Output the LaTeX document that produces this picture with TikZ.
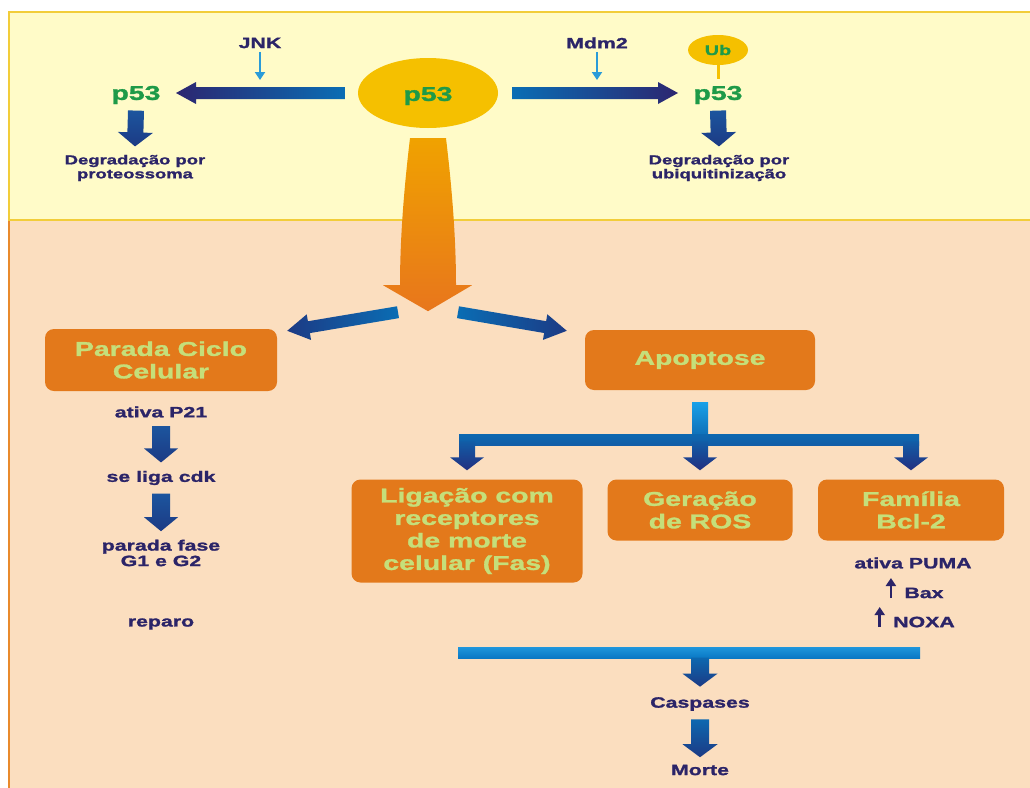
\documentclass[tikz,border=0pt]{standalone}
\usepackage{fontspec}
\newfontfamily\wfont{Liberation Sans}[FakeStretch=1.42, FakeBold=1.4]
\usetikzlibrary{shapes.geometric,calc,arrows.meta}

\definecolor{panelY}{HTML}{FFFBC8}
\definecolor{panelYline}{HTML}{F2CD3A}
\definecolor{panelO}{HTML}{FBDEBF}
\definecolor{panelOline}{HTML}{E98A2C}
\definecolor{goldE}{HTML}{F5C000}
\definecolor{greenT}{HTML}{1E9A48}
\definecolor{navyT}{HTML}{2B2468}
\definecolor{boxOr}{HTML}{E3791B}
\definecolor{boxGr}{HTML}{C5DF7A}
\definecolor{navyA}{HTML}{2C2670}
\definecolor{blueA}{HTML}{0A6DB4}
\definecolor{blueD}{HTML}{1C559E}
\definecolor{navyD}{HTML}{1C3A84}
\definecolor{skyB}{HTML}{18A0E8}
\definecolor{blueB}{HTML}{0D68B0}
\definecolor{navyC}{HTML}{232F80}
\definecolor{skyE}{HTML}{1E96DC}
\definecolor{blueE}{HTML}{0A78C4}
\definecolor{tinyBlue}{HTML}{2A9BD8}
\definecolor{ogold}{HTML}{F0A200}
\definecolor{oorange}{HTML}{E8761C}

\tikzset{
  lbl/.style={text=navyT, align=center, font=\wfont\bfseries\fontsize{15}{15.5}\selectfont},
  deg/.style={text=navyT, align=center, font=\wfont\bfseries\fontsize{13}{14}\selectfont},
  gtxt/.style={text=greenT, font=\wfont\bfseries\fontsize{20}{22}\selectfont},
  ell/.style={ellipse, fill=goldE, inner sep=0pt, minimum width=140pt, minimum height=70pt},
  ubell/.style={ellipse, fill=goldE, inner sep=0pt, minimum width=60pt, minimum height=30pt,
    text=greenT, font=\wfont\bfseries\fontsize{14}{15}\selectfont},
  pbox/.style={rectangle, rounded corners=9pt, fill=boxOr, text=boxGr, inner sep=0pt,
    align=center, font=\wfont\bfseries\fontsize{20}{22.5}\selectfont},
  tinyarr/.style={draw=tinyBlue, line width=2pt, -{Triangle[width=10pt,length=8pt]}},
  uparr/.style={draw=navyT, line width=2.8pt, -{Triangle[width=10pt,length=8pt]}},
}

% fat arrow: shading, from, to, shaft half width, head half width, head length
\newcommand{\fatarrow}[6]{%
  \coordinate (faA) at (#2);
  \coordinate (faB) at (#3);
  \coordinate (faH) at ($(faB)!#6!(faA)$);
  \shade[#1] ($(faA)!#4!90:(faB)$) -- ($(faH)!#4!90:(faB)$) -- ($(faH)!#5!90:(faB)$) -- (faB)
    -- ($(faH)!#5!-90:(faB)$) -- ($(faH)!#4!-90:(faB)$) -- ($(faA)!#4!-90:(faB)$) -- cycle;
}

\begin{document}
\begin{tikzpicture}[x=1pt, y=-1pt]
  \useasboundingbox (0,0) rectangle (1030,787);
  \fill[white] (0,0) rectangle (1030,787);

  % panels
  \fill[panelO] (9,220) rectangle (1040,800);
  \draw[panelOline, line width=2.5pt] (9,220) -- (9,800);
  \filldraw[fill=panelY, draw=panelYline, line width=2.5pt] (1040,12) -- (9,12) -- (9,220) -- (1040,220);

  % top part
  \node[ell] (p53c) at (428,93) {};
  \node[gtxt] at ($(p53c)+(0,3)$) {p53};
  \node[gtxt] (p53l) at (136,95) {p53};
  \node[gtxt] (p53r) at (718,95) {p53};
  \node[lbl] (jnk) at (260,43) {JNK};
  \node[lbl] (mdm2) at (597,43) {Mdm2};
  \node[ubell] (ub) at (718,50) {Ub};
  \node[deg] (degl) at (135,168) {Degradação por\\proteossoma};
  \node[deg] (degr) at (719,168) {Degradação por\\ubiquitinização};

  \fatarrow{left color=navyA, right color=blueA}{$(p53c.west)+(-13,0)$}{$(p53l.east)+(12,-2)$}{6pt}{11pt}{20pt}
  \fatarrow{left color=blueA, right color=navyA}{$(p53c.east)+(14,0)$}{$(p53r.west)+(-12,-2)$}{6pt}{11pt}{20pt}
  \coordinate (jnkhit) at (260,80);
  \coordinate (mdmhit) at (597,80);
  \draw[tinyarr] (jnk.south) -- (jnkhit);
  \draw[tinyarr] (mdm2.south) -- (mdmhit);
  \draw[goldE, line width=3pt, shorten >=3pt] (ub.south) -- (p53r.north);
  \fatarrow{top color=blueD, bottom color=navyD}{$(p53l.south)+(0,3)$}{$(degl.north)+(0,-5)$}{8pt}{17.5pt}{14pt}
  \fatarrow{top color=blueD, bottom color=navyD}{$(p53r.south)+(0,3)$}{$(degr.north)+(0,-5)$}{8pt}{17.5pt}{14pt}

  % big orange arrow
  \begin{scope}[shift={(p53c.south)}]
    \shade[top color=ogold, bottom color=oorange] (-18,10) -- (18,10)
      .. controls (24,60) and (28,110) .. (28,157) -- (44,157) -- (0,183) -- (-45,157) -- (-28,157)
      .. controls (-28,110) and (-24,60) .. (-18,10) -- cycle;
  \end{scope}
  \coordinate (split) at ($(p53c.south)+(0,183)$);

  % boxes
  \node[pbox, minimum width=232pt, minimum height=62pt] (parada) at (161,360) {Parada Ciclo\\Celular};
  \node[pbox, minimum width=230pt, minimum height=60pt] (apop) at (700,360) {Apoptose};
  \node[pbox, minimum width=231pt, minimum height=103pt] (fas) at (467,531) {Ligação com\\receptores\\de morte\\celular (Fas)};
  \node[pbox, minimum width=185pt, minimum height=61pt] (ros) at (700,510) {Geração\\de ROS};
  \node[pbox, minimum width=186pt, minimum height=61pt] (bcl) at (911,510) {Família\\Bcl-2};

  \fatarrow{left color=navyD, right color=blueA}{$(split)+(-30,1)$}{$(parada.north east)+(10,2)$}{6pt}{13pt}{22pt}
  \fatarrow{left color=blueA, right color=navyD}{$(split)+(30,1)$}{$(apop.north west)+(-18,1)$}{6pt}{13pt}{22pt}

  % cell cycle arrest
  \node[lbl] (p21) at (161,412) {ativa P21};
  \node[lbl] (cdk) at (161,478) {se liga cdk};
  \node[lbl] (fase) at (161,553) {parada fase\\G1 e G2};
  \node[lbl] (rep) at (161,624) {reparo};
  \fatarrow{top color=blueD, bottom color=navyD}{$(p21.south)+(0,5)$}{$(cdk.north)+(0,-5)$}{9pt}{17pt}{14pt}
  \fatarrow{top color=blueD, bottom color=navyD}{$(cdk.south)+(0,5)$}{$(fase.north)+(0,-5)$}{9pt}{17pt}{14pt}

  % apoptosis branches
  \shade[top color=skyB, bottom color=blueB] ($(apop.south)+(-8,12)$) rectangle ($(apop.south)+(8,50)$);
  \shade[top color=blueB, bottom color=blueB!80!navyC] ($(fas.north)+(-8,-45)$) rectangle ($(bcl.north)+(8,-34)$);
  \foreach \b in {fas,ros,bcl} {
    \fatarrow{top color=blueB!80!navyC, bottom color=navyC}{$(\b.north)+(0,-38)$}{$(\b.north)+(0,-9)$}{8pt}{17pt}{13pt}
  }

  \node[lbl] (puma) at (913,563) {ativa PUMA};
  \node[lbl] (bax) at (924,593) {Bax};
  \node[lbl] (noxa) at (924,622) {NOXA};
  \coordinate (baxup) at ($(bax.west)+(-10,-15)$);
  \coordinate (noxaup) at ($(noxa.west)+(-10,-15)$);
  \draw[uparr] ($(bax.west)+(-10,5)$) -- (baxup);
  \draw[uparr] ($(noxa.west)+(-10,5)$) -- (noxaup);

  % caspases
  \node[lbl] (casp) at (700,704) {Caspases};
  \node[lbl] (morte) at (700,770) {Morte};
  \shade[top color=skyE, bottom color=blueE] (458,647) rectangle (920,658);
  \fatarrow{top color=blueB, bottom color=navyD}{$(casp.north)+(0,-36)$}{$(casp.north)+(0,-7)$}{9pt}{17.5pt}{13pt}
  \fatarrow{top color=blueB, bottom color=navyD}{$(casp.south)+(0,5)$}{$(morte.north)+(0,-4)$}{9pt}{17.5pt}{13pt}
\end{tikzpicture}
\end{document}
